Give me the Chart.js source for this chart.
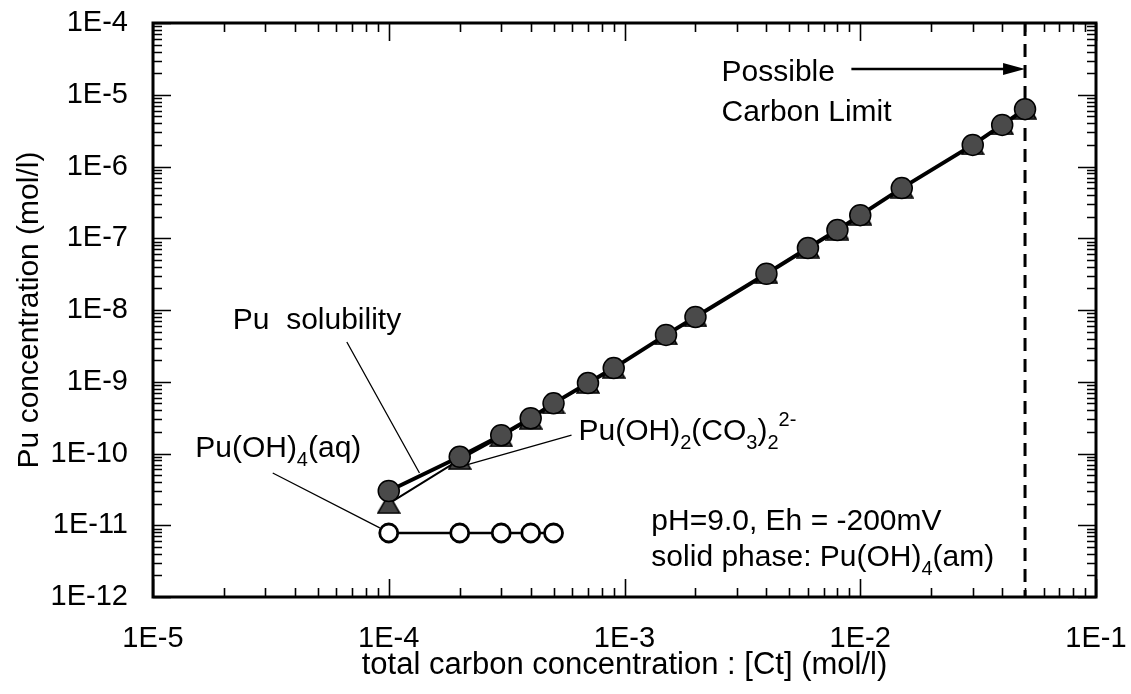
<!DOCTYPE html>
<html>
<head>
<meta charset="utf-8">
<script src="https://cdn.jsdelivr.net/npm/chart.js@4/dist/chart.umd.min.js"></script>
<style>
  html, body { margin: 0; padding: 0; background: #ffffff; }
  #wrap { width: 1131px; height: 694px; }
</style>
</head>
<body>
<div id="wrap"><canvas id="chart" width="1131" height="694"></canvas></div>
<script>
// Total carbon concentration [Ct] (mol/l)
const carbonTotal = [1e-4, 2e-4, 3e-4, 4e-4, 5e-4, 7e-4, 9e-4, 1.5e-3, 2e-3, 4e-3, 6e-3, 8e-3, 1e-2, 1.5e-2, 3e-2, 4e-2, 5e-2];
// Pu solubility (mol/l)
const puSolubility = [3.0e-11, 9.0e-11, 1.8e-10, 3.1e-10, 5.0e-10, 9.6e-10, 1.55e-9, 4.5e-9, 8.0e-9, 3.2e-8, 7.3e-8, 1.3e-7, 2.1e-7, 5.0e-7, 2.0e-6, 3.8e-6, 6.3e-6];
// Pu(OH)2(CO3)2 2- species (mol/l)
const puCarbonate = [2.0e-11, 8.2e-11, 1.7e-10, 3.0e-10, 4.9e-10, 9.5e-10, 1.54e-9, 4.5e-9, 8.0e-9, 3.2e-8, 7.3e-8, 1.3e-7, 2.1e-7, 5.0e-7, 2.0e-6, 3.8e-6, 6.3e-6];
// Pu(OH)4(aq) species (mol/l)
const carbonAq = [1e-4, 2e-4, 3e-4, 4e-4, 5e-4];
const puHydroxideAq = [7.8e-12, 7.8e-12, 7.8e-12, 7.8e-12, 7.8e-12];
// Possible carbon limit (mol/l)
const carbonLimit = 5e-2;

// Axis ticks
const xTickValues = [1e-5, 1e-4, 1e-3, 1e-2, 1e-1];
const xTickLabels = ['1E-5', '1E-4', '1E-3', '1E-2', '1E-1'];
const yTickValues = [1e-12, 1e-11, 1e-10, 1e-9, 1e-8, 1e-7, 1e-6, 1e-5, 1e-4];
const yTickLabels = ['1E-12', '1E-11', '1E-10', '1E-9', '1E-8', '1E-7', '1E-6', '1E-5', '1E-4'];

const FONT = "'Liberation Sans', Arial, Helvetica, sans-serif";
Chart.defaults.font.family = FONT;
Chart.defaults.color = '#000';

// Filled triangle marker, centred on its bounding box
function makeTriangle(w, h) {
  const c = document.createElement('canvas');
  c.width = w; c.height = h;
  const g = c.getContext('2d');
  g.beginPath();
  g.moveTo(w / 2, 1);
  g.lineTo(w - 1, h - 1);
  g.lineTo(1, h - 1);
  g.closePath();
  g.fillStyle = '#444';
  g.fill();
  g.lineWidth = 1.5;
  g.strokeStyle = '#000';
  g.stroke();
  return c;
}
const triangleMarker = makeTriangle(24, 21);

// Text labels and leader lines, placed in data coordinates
const labels = [
  { x: 2.18e-5, y: 5.43e-9, parts: [['Pu  solubility']] },
  { x: 1.51e-5, y: 8.93e-11, parts: [['Pu(OH)'], ['4', 'sub'], ['(aq)']] },
  { x: 6.38e-4, y: 1.54e-10, parts: [['Pu(OH)'], ['2', 'sub'], ['(CO'], ['3', 'sub'], [')'], ['2', 'sub'], ['2-', 'sup']] },
  { x: 1.30e-3, y: 8.6e-12, parts: [['pH=9.0, Eh = -200mV']] },
  { x: 1.30e-3, y: 2.70e-12, parts: [['solid phase: Pu(OH)'], ['4', 'sub'], ['(am)']] },
  { x: 2.58e-3, y: 1.56e-5, parts: [['Possible']] },
  { x: 2.58e-3, y: 4.31e-6, parts: [['Carbon Limit']] }
];
const leaders = [
  [6.64e-5, 3.58e-9, 1.35e-4, 5.35e-11],
  [3.22e-5, 5.35e-11, 9.16e-5, 9.17e-12],
  [5.96e-4, 1.81e-10, 2.14e-4, 6.92e-11]
];
const arrow = { x0: 9.17e-3, x1: carbonLimit, y: 2.29e-5 };

function drawRich(ctx, parts, x, y) {
  let cx = x;
  for (const [text, kind] of parts) {
    let dy = 0, size = 30;
    if (kind === 'sub') { size = 20; dy = 9; }
    if (kind === 'sup') { size = 20; dy = -14; }
    ctx.font = size + 'px ' + FONT;
    ctx.fillText(text, cx, y + dy);
    cx += ctx.measureText(text).width;
  }
}

// Keep the plot box fixed: no extra room for overhanging tick labels
function noOverhang(s) {
  s.paddingTop = 0; s.paddingBottom = 0; s.paddingLeft = 0; s.paddingRight = 0;
}

const framePlugin = {
  id: 'frame',
  beforeDatasetsDraw(chart) {
    const { ctx, chartArea: a, scales: { x, y } } = chart;
    ctx.save();
    // vertical dashed carbon limit
    const lx = x.getPixelForValue(carbonLimit);
    ctx.strokeStyle = '#000';
    ctx.lineWidth = 3;
    ctx.setLineDash([13, 8]);
    ctx.beginPath();
    ctx.moveTo(lx, a.top);
    ctx.lineTo(lx, a.bottom);
    ctx.stroke();
    ctx.setLineDash([]);

    // inward tick marks on all four sides
    const major = 18, minor = 9;
    ctx.lineWidth = 1.6;
    ctx.beginPath();
    for (let e = -5; e <= -1; e++) {
      for (let k = 1; k <= 9; k++) {
        const v = k * Math.pow(10, e);
        if (v > 0.1 * 1.0001) break;
        const px = Math.round(x.getPixelForValue(v)) + 0.5;
        const len = k === 1 ? major : minor;
        ctx.moveTo(px, a.bottom); ctx.lineTo(px, a.bottom - len);
        ctx.moveTo(px, a.top); ctx.lineTo(px, a.top + len);
      }
    }
    for (let e = -12; e <= -4; e++) {
      for (let k = 1; k <= 9; k++) {
        const v = k * Math.pow(10, e);
        if (v > 1e-4 * 1.0001) break;
        const py = Math.round(y.getPixelForValue(v)) + 0.5;
        const len = k === 1 ? major : minor;
        ctx.moveTo(a.left, py); ctx.lineTo(a.left + len, py);
        ctx.moveTo(a.right, py); ctx.lineTo(a.right - len, py);
      }
    }
    ctx.stroke();

    // plot frame
    ctx.lineWidth = 3;
    ctx.strokeRect(a.left, a.top, a.right - a.left, a.bottom - a.top);
    ctx.restore();
  },
  afterDatasetsDraw(chart) {
    const { ctx, scales: { x, y } } = chart;
    ctx.save();
    ctx.fillStyle = '#000';
    ctx.strokeStyle = '#000';
    // leader lines
    ctx.lineWidth = 1.3;
    ctx.beginPath();
    for (const [x0, y0, x1, y1] of leaders) {
      ctx.moveTo(x.getPixelForValue(x0), y.getPixelForValue(y0));
      ctx.lineTo(x.getPixelForValue(x1), y.getPixelForValue(y1));
    }
    ctx.stroke();
    // arrow to the carbon limit
    const ax0 = x.getPixelForValue(arrow.x0), ax1 = x.getPixelForValue(arrow.x1), ay = y.getPixelForValue(arrow.y);
    ctx.lineWidth = 2.5;
    ctx.beginPath();
    ctx.moveTo(ax0, ay); ctx.lineTo(ax1 - 18, ay);
    ctx.stroke();
    ctx.beginPath();
    ctx.moveTo(ax1, ay); ctx.lineTo(ax1 - 22, ay - 6); ctx.lineTo(ax1 - 22, ay + 6); ctx.closePath();
    ctx.fill();
    // text
    ctx.textAlign = 'left';
    ctx.textBaseline = 'alphabetic';
    for (const l of labels) {
      drawRich(ctx, l.parts, x.getPixelForValue(l.x), y.getPixelForValue(l.y));
    }
    ctx.restore();
  }
};

new Chart(document.getElementById('chart'), {
  type: 'line',
  data: {
    datasets: [
      {
        label: 'Pu solubility',
        data: carbonTotal.map((c, i) => ({ x: c, y: puSolubility[i] })),
        borderColor: '#000',
        borderWidth: 4,
        pointRadius: 10.5,
        pointBackgroundColor: '#4a4a4a',
        pointBorderColor: '#000',
        pointBorderWidth: 1.5,
        order: 0
      },
      {
        label: 'Pu(OH)2(CO3)2 2-',
        data: carbonTotal.map((c, i) => ({ x: c, y: puCarbonate[i] })),
        borderColor: '#000',
        borderWidth: 2,
        pointStyle: triangleMarker,
        pointRadius: 11,
        order: 1
      },
      {
        label: 'Pu(OH)4(aq)',
        data: carbonAq.map((c, i) => ({ x: c, y: puHydroxideAq[i] })),
        borderColor: '#000',
        borderWidth: 2.5,
        pointRadius: 9,
        pointBackgroundColor: '#fff',
        pointBorderColor: '#000',
        pointBorderWidth: 2.8,
        order: 2
      }
    ]
  },
  options: {
    responsive: false,
    animation: false,
    devicePixelRatio: 1,
    clip: false,
    layout: { padding: { left: 0, right: 35, top: 23, bottom: 0 } },
    plugins: { legend: { display: false }, tooltip: { enabled: false } },
    scales: {
      x: {
        type: 'logarithmic',
        min: 1e-5,
        max: 1e-1,
        grid: { display: false, drawTicks: false },
        border: { display: false },
        afterBuildTicks: s => { s.ticks = xTickValues.map(v => ({ value: v })); },
        afterFit: s => { s.height = 97; noOverhang(s); },
        ticks: {
          autoSkip: false,
          maxRotation: 0,
          padding: 25,
          font: { size: 29 },
          color: '#000',
          callback: (v, i) => xTickLabels[i]
        },
        title: {
          display: true,
          text: 'total carbon concentration : [Ct] (mol/l)',
          font: { size: 31 },
          color: '#000',
          padding: { top: 0, bottom: 10 }
        }
      },
      y: {
        type: 'logarithmic',
        min: 1e-12,
        max: 1e-4,
        grid: { display: false, drawTicks: false },
        border: { display: false },
        afterBuildTicks: s => { s.ticks = yTickValues.map(v => ({ value: v })); },
        afterFit: s => { s.width = 153; noOverhang(s); },
        ticks: {
          autoSkip: false,
          padding: 25,
          font: { size: 29 },
          color: '#000',
          callback: (v, i) => yTickLabels[i]
        },
        title: {
          display: true,
          text: 'Pu concentration (mol/l)',
          font: { size: 30 },
          color: '#000',
          padding: { top: 12, bottom: 0 }
        }
      }
    }
  },
  plugins: [framePlugin]
});
</script>
</body>
</html>
